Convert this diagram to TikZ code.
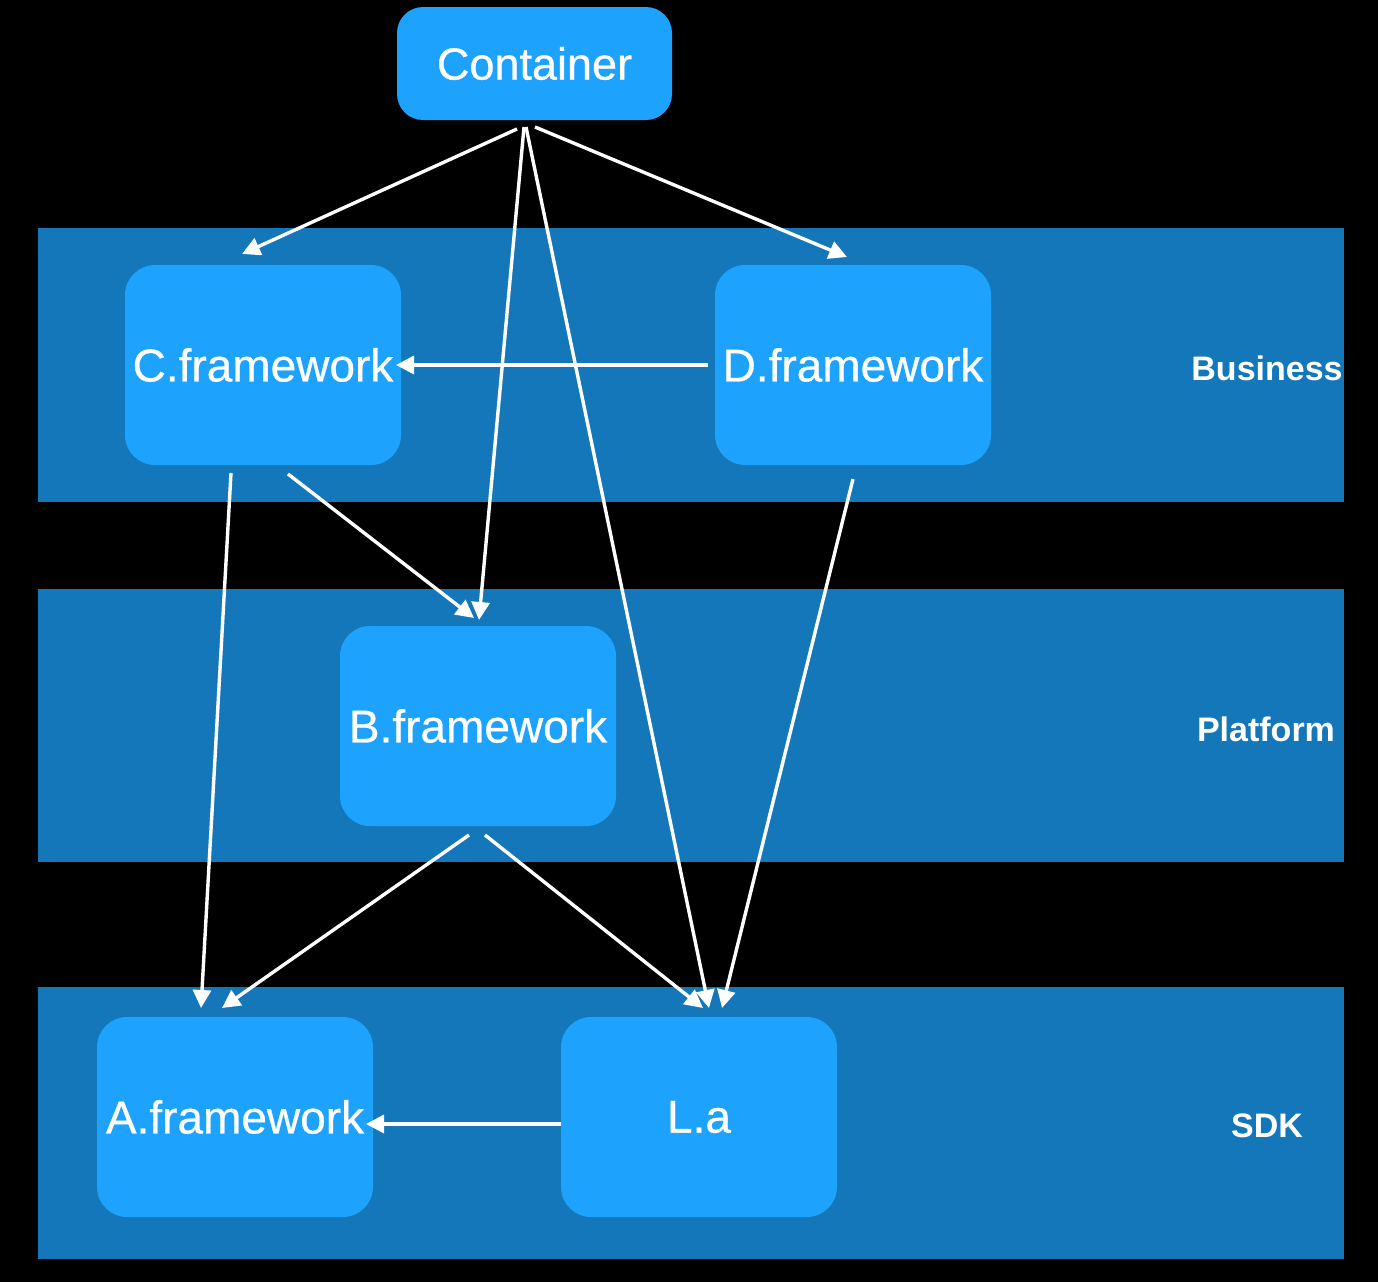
\documentclass[tikz,border=0pt]{standalone}
\usepackage{fontspec}
\setmainfont{Liberation Sans}
\newfontfamily\boxfont[FakeBold=0.6]{Liberation Sans}
\usetikzlibrary{arrows.meta}
\definecolor{bandc}{HTML}{1377BA}
\definecolor{boxc}{HTML}{1DA3FE}
\begin{document}
\begin{tikzpicture}[x=1pt,y=-1pt,
  band/.style={fill=bandc,draw=none},
  fbox/.style={fill=boxc,draw=none,rounded corners=30pt,minimum width=276pt,minimum height=200pt,inner sep=0pt,
    text=white,font=\boxfont\fontsize{46}{50}\selectfont},
  layer/.style={text=white,font=\bfseries\fontsize{34}{38}\selectfont,inner sep=0pt},
  dep/.style={draw=white,line width=3.4pt,-{Triangle[length=18pt,width=18pt]}}]
\fill[black] (0,0) rectangle (1378,1282);
\useasboundingbox (0,0) rectangle (1378,1282);
% bands
\path[band] (38,228) rectangle (1344,502);
\path[band] (38,589) rectangle (1344,862);
\path[band] (38,987) rectangle (1344,1259);
% boxes
\node[fbox,minimum width=275pt,minimum height=113pt,font=\boxfont\fontsize{45}{50}\selectfont,rounded corners=26pt] (cont) at (534.5,63.5) {Container};
\node[fbox] (C) at (263,365) {C.framework};
\node[fbox] (D) at (853,365) {D.framework};
\node[fbox] (B) at (478,726) {B.framework};
\node[fbox] (A) at (235,1117) {A.framework};
\node[fbox] (L) at (699,1117) {L.a};
% layer labels
\node[layer] (bus) at (1267,368) {Business};
\node[layer] (plat) at (1266,729) {Platform};
\node[layer] (sdk) at (1267,1126) {SDK};
% connector end points
\coordinate (c1) at (517,129); \coordinate (c1e) at (242,254);
\coordinate (c2) at (524,127); \coordinate (c2e) at (479,620);
\coordinate (c3) at (526,127); \coordinate (c3e) at (709,1008);
\coordinate (c4) at (535,127); \coordinate (c4e) at (847,257);
\coordinate (dc) at (708,365); \coordinate (dce) at (396,365);
\coordinate (ca) at (231,473); \coordinate (cae) at (201,1008);
\coordinate (cb) at (288,474); \coordinate (cbe) at (474,618);
\coordinate (dl) at (853,479); \coordinate (dle) at (722,1008);
\coordinate (ba) at (469,835); \coordinate (bae) at (222,1008);
\coordinate (bl) at (485,835); \coordinate (ble) at (703,1008);
\coordinate (la) at (561,1124); \coordinate (lae) at (366,1124);
\draw[dep] (c1) -- (c1e);
\draw[dep] (c2) -- (c2e);
\draw[dep] (c3) -- (c3e);
\draw[dep] (c4) -- (c4e);
\draw[dep] (dc) -- (dce);
\draw[dep] (ca) -- (cae);
\draw[dep] (cb) -- (cbe);
\draw[dep] (dl) -- (dle);
\draw[dep] (ba) -- (bae);
\draw[dep] (bl) -- (ble);
\draw[dep] (la) -- (lae);
\end{tikzpicture}
\end{document}
